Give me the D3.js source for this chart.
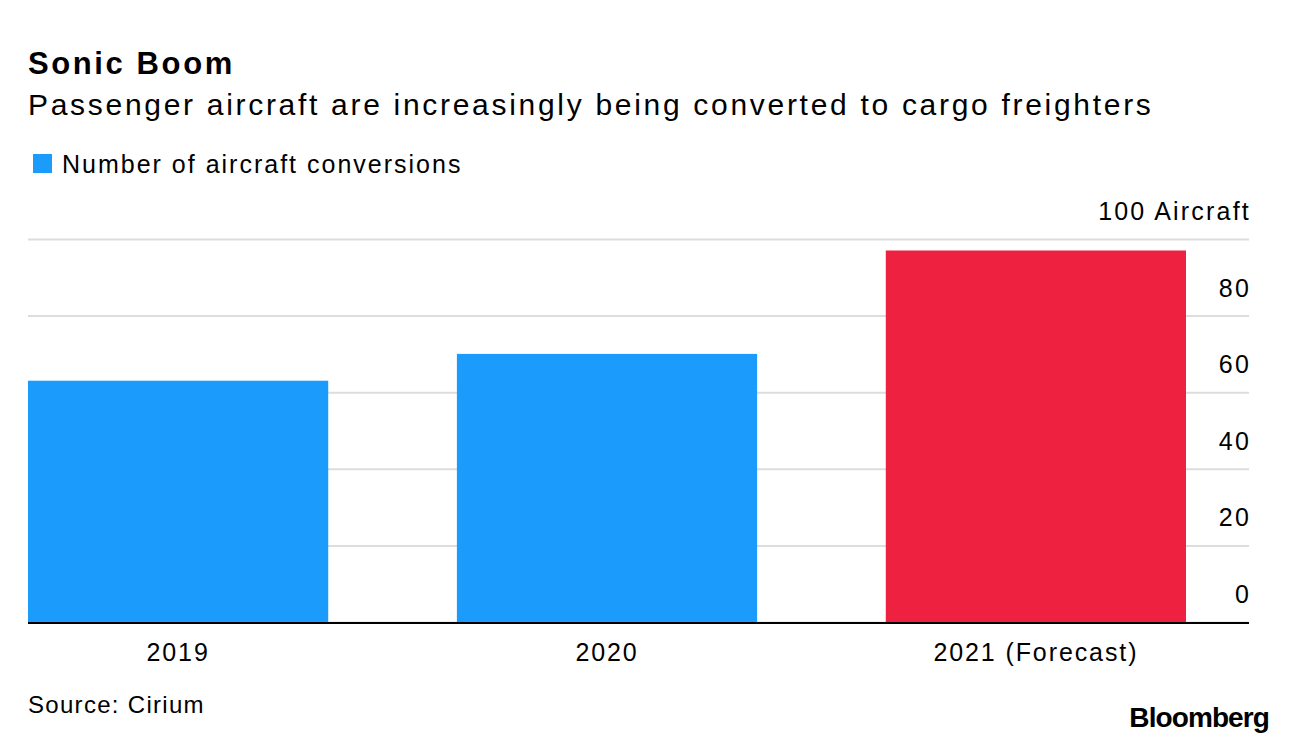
<!DOCTYPE html>
<html>
<head>
<meta charset="utf-8">
<script src="https://cdn.jsdelivr.net/npm/d3@7"></script>
<style>
  body { margin: 0; background: #fff; font-family: "Liberation Sans", Arial, sans-serif; }
  svg text { font-family: "Liberation Sans", Arial, sans-serif; fill: #000; }
</style>
</head>
<body>
<div id="app"></div>
<script>
const categories = ['2019', '2020', '2021 (Forecast)'];
const conversions = [63, 70, 97];
const barColors = ['#1b9cfc', '#1b9cfc', '#ee2240'];
const yTicks = [0, 20, 40, 60, 80, 100];

const w = 1296;
const h = 744;

const svg = d3.select('#app')
  .append('svg')
  .attr('width', w)
  .attr('height', h);

// titles
svg.append('text')
  .attr('x', 28)
  .attr('y', 74)
  .style('font-size', '31px')
  .style('font-weight', 'bold')
  .style('letter-spacing', '2.6px')
  .text('Sonic Boom');

svg.append('text')
  .attr('x', 28)
  .attr('y', 115)
  .style('font-size', '30px')
  .style('letter-spacing', '2.7px')
  .text('Passenger aircraft are increasingly being converted to cargo freighters');

// legend
svg.append('rect')
  .attr('x', 33)
  .attr('y', 154)
  .attr('width', 19)
  .attr('height', 19)
  .attr('fill', barColors[0]);

svg.append('text')
  .attr('x', 62)
  .attr('y', 173)
  .style('font-size', '25px')
  .style('letter-spacing', '2px')
  .text('Number of aircraft conversions');

/////////SCALES//////////
const left = 28;
const right = 1249;
const xScale = d3.scaleBand()
  .domain(categories)
  .range([left, 1186])
  .paddingInner(0.3)
  .paddingOuter(0);

const yScale = d3.scaleLinear()
  .domain([0, 100])
  .range([622, 239]);

/////////GRID + Y AXIS//////////
const yAxis = d3.axisLeft(yScale)
  .tickValues(yTicks)
  .tickSize(right - left)
  .tickFormat((d) => d === 100 ? '100 Aircraft' : d);

const yG = svg.append('g')
  .attr('transform', 'translate(' + right + ',0)')
  .call(yAxis);

yG.select('.domain').remove();
yG.selectAll('.tick line')
  .attr('stroke', '#dddddd')
  .attr('stroke-width', 2);
yG.selectAll('.tick text')
  .attr('x', 2)
  .attr('dy', '-0.78em')
  .attr('text-anchor', 'end')
  .style('font-size', '25px')
  .style('letter-spacing', '2.2px')
  .style('font-family', '"Liberation Sans", Arial, sans-serif')
  .attr('fill', '#000');

/////////BARS//////////
svg.selectAll('.bar')
  .data(conversions)
  .enter()
  .append('rect')
  .attr('class', 'bar')
  .attr('x', (d, i) => xScale(categories[i]))
  .attr('y', (d) => yScale(d))
  .attr('width', xScale.bandwidth())
  .attr('height', (d) => yScale(0) - yScale(d))
  .attr('fill', (d, i) => barColors[i]);

// baseline
svg.append('line')
  .attr('x1', left)
  .attr('x2', right)
  .attr('y1', yScale(0) + 1)
  .attr('y2', yScale(0) + 1)
  .attr('stroke', '#000')
  .attr('stroke-width', 2);

/////////X AXIS//////////
const xAxis = d3.axisBottom(xScale).tickSize(0);
const xG = svg.append('g')
  .attr('transform', 'translate(0,' + (yScale(0) + 2) + ')')
  .call(xAxis);
xG.select('.domain').remove();
xG.selectAll('.tick text')
  .attr('y', 37)
  .attr('dy', 0)
  .style('font-size', '25px')
  .style('letter-spacing', '1.9px')
  .style('font-family', '"Liberation Sans", Arial, sans-serif')
  .attr('fill', '#000');

// footer
svg.append('text')
  .attr('x', 28)
  .attr('y', 713)
  .style('font-size', '24px')
  .style('letter-spacing', '1.3px')
  .text('Source: Cirium');

svg.append('text')
  .attr('x', 1269)
  .attr('y', 727)
  .attr('text-anchor', 'end')
  .style('font-size', '28px')
  .style('font-weight', 'bold')
  .style('letter-spacing', '-0.9px')
  .text('Bloomberg');
</script>
</body>
</html>
